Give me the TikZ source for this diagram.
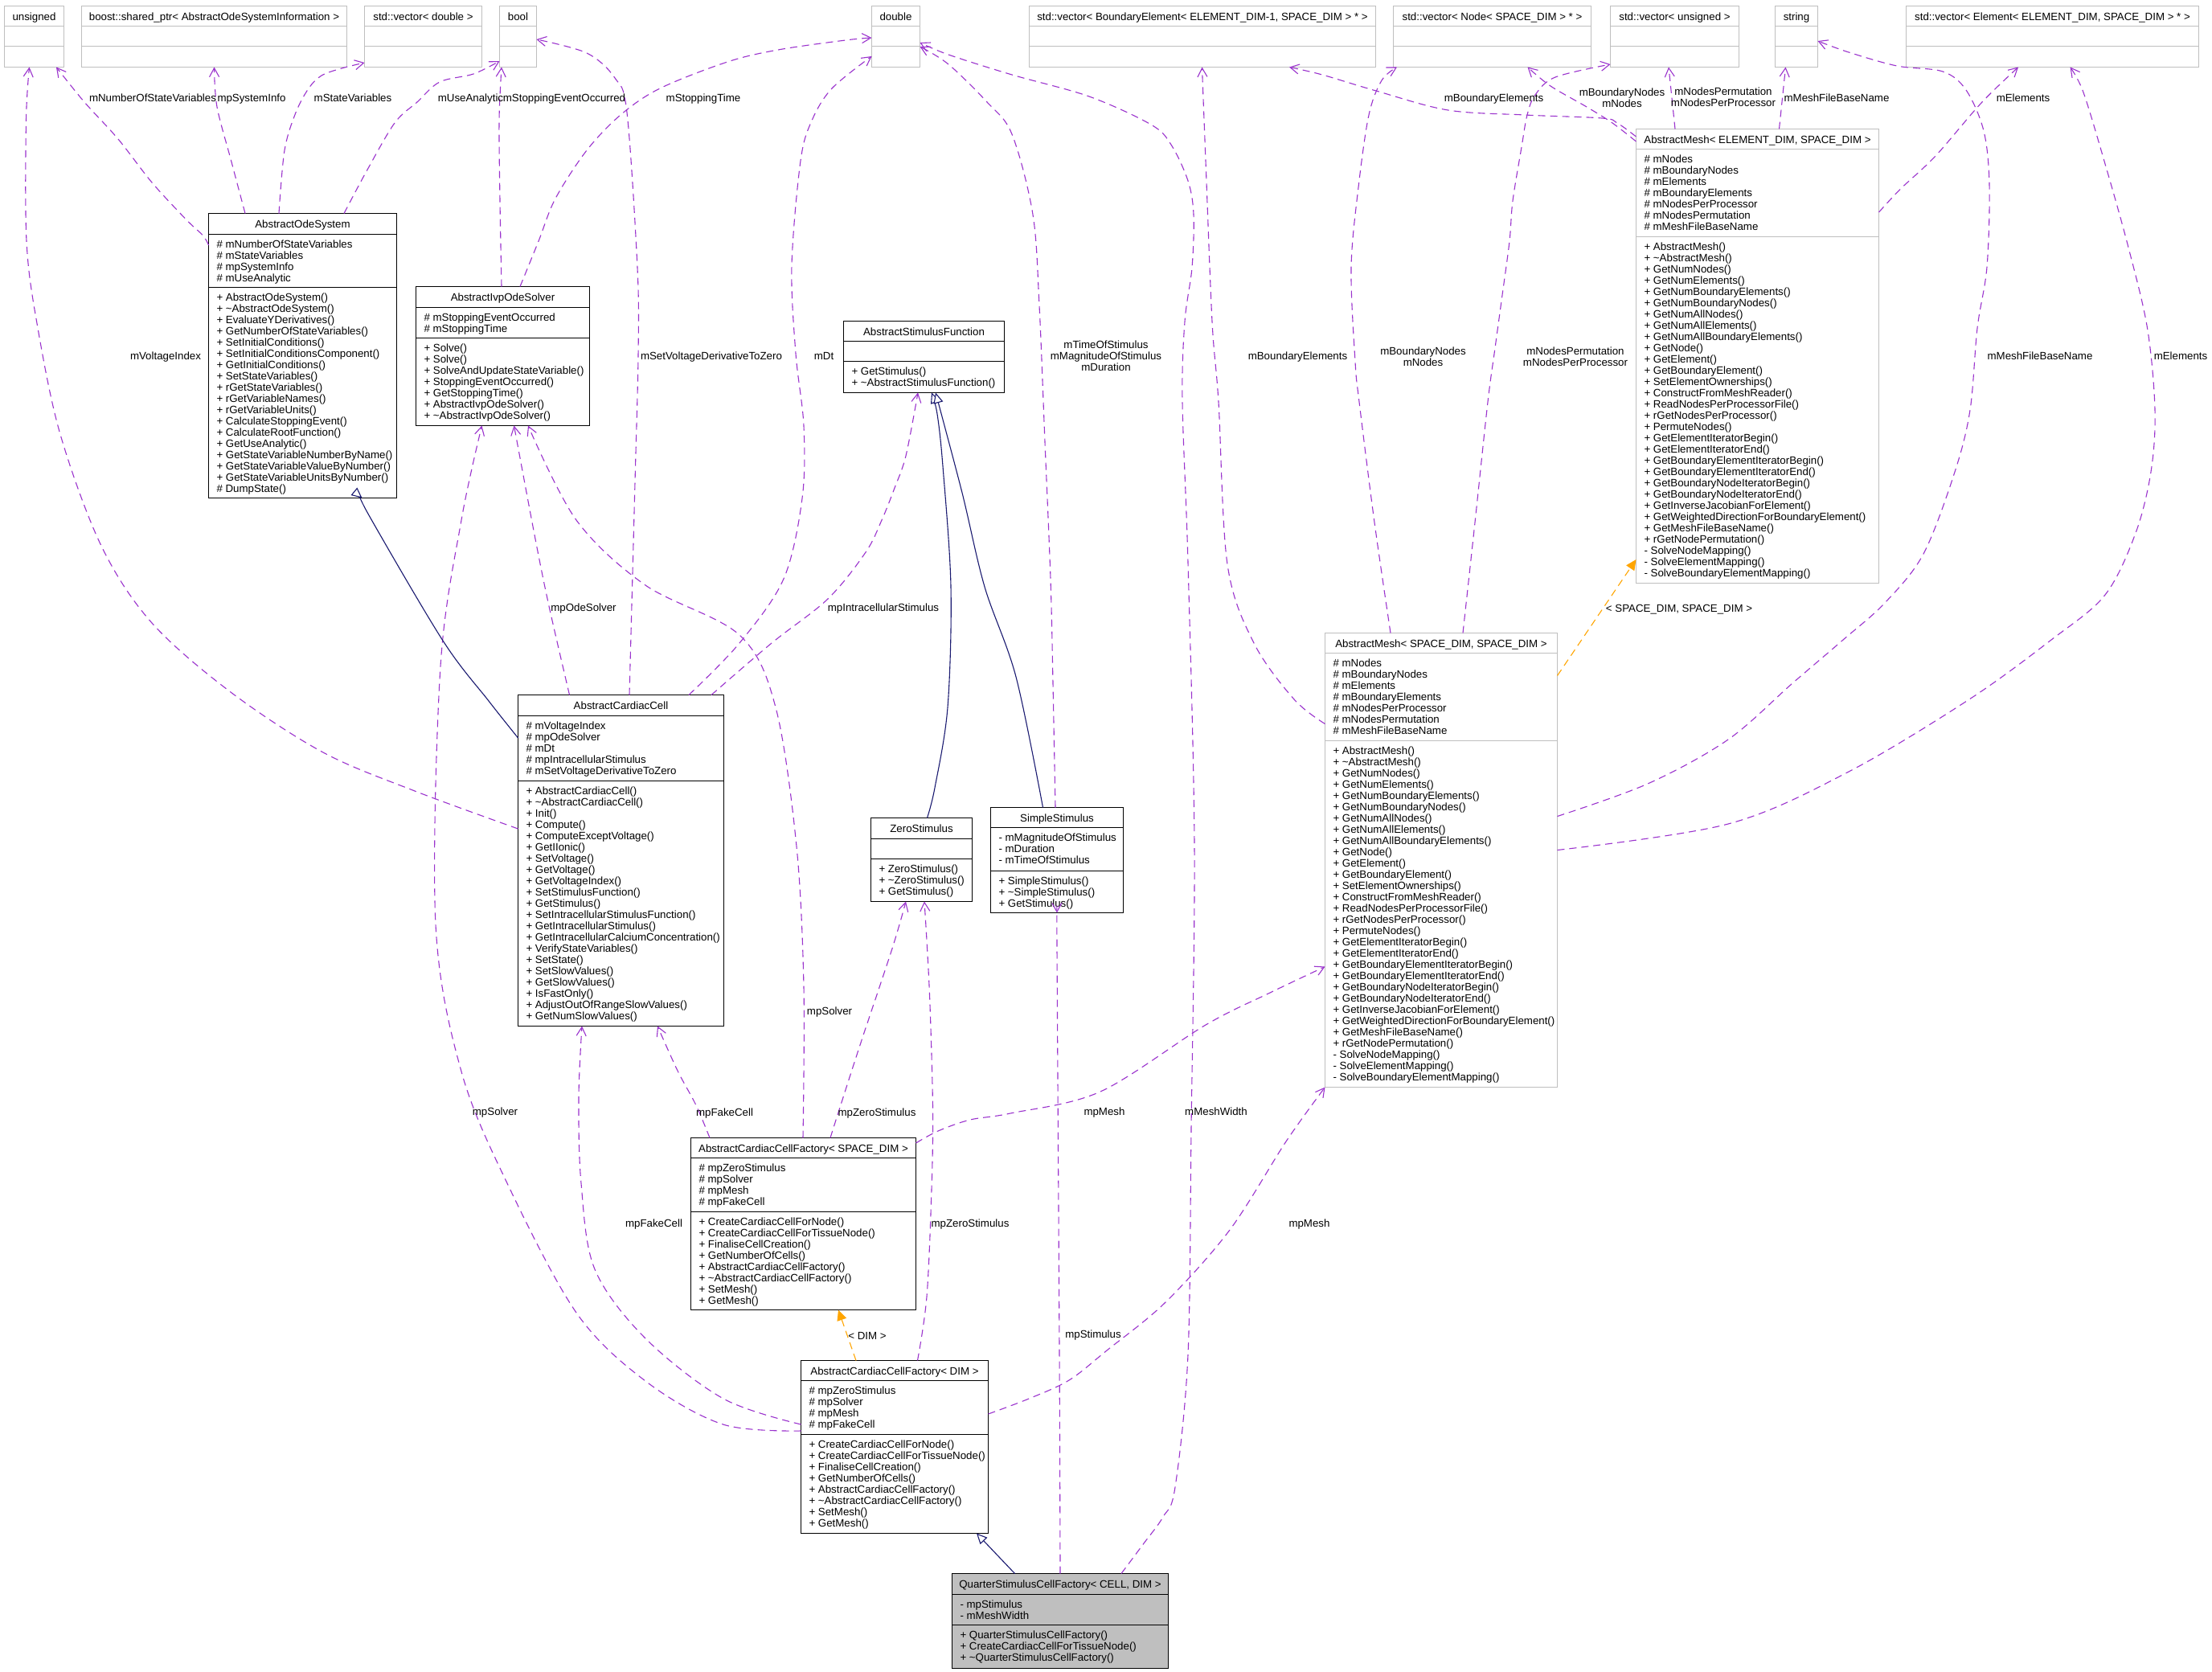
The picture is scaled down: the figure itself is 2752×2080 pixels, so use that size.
\documentclass[tikz,border=0pt]{standalone}
\usepackage{fontspec}
\setmainfont{Liberation Sans}
\usetikzlibrary{arrows.meta}
\definecolor{usecol}{HTML}{9A32CD}
\definecolor{inhcol}{HTML}{191970}
\definecolor{tplcol}{HTML}{FFA500}
\definecolor{greyb}{HTML}{BFBFBF}
\newcommand\FirstStrut{\rule{0pt}{10pt}}
\newcommand\umlbox[9]{%
  \node[#8,minimum width=#4pt,minimum height=#5pt,anchor=north west] (#1) at (#2,#3) {};
  \draw[#8 rule] ([yshift=-#6pt]#1.north west) -- ([yshift=-#6pt]#1.north east);
  \draw[#8 rule] ([yshift=-#7pt]#1.north west) -- ([yshift=-#7pt]#1.north east);
  \node[hd] (#1-t) at ([yshift=-7.5pt]#1.north) {\FirstStrut #9};
}
\begin{document}
\begin{tikzpicture}[x=1pt,y=-1pt,font=\fontsize{13.3}{14}\selectfont,
  cls/.style={draw=black,line width=1.1pt,fill=white,inner sep=0pt,outer sep=0pt},
  ucls/.style={draw=greyb,line width=1.1pt,fill=white,inner sep=0pt,outer sep=0pt},
  qcls/.style={draw=black,line width=1.1pt,fill=greyb,inner sep=0pt,outer sep=0pt},
  cls rule/.style={draw=black,line width=1.1pt},
  ucls rule/.style={draw=greyb,line width=1.1pt},
  qcls rule/.style={draw=black,line width=1.1pt},
  hd/.style={anchor=north,inner sep=0pt,outer sep=0pt},
  sec/.style={anchor=north west,inner sep=0pt,outer sep=0pt,align=left},
  lbl/.style={anchor=north,inner sep=0pt,outer sep=0pt,align=center},
  usage/.style={draw=usecol,line width=1.1pt,dash pattern=on 9pt off 6pt,-{Straight Barb[length=11pt,width=12pt]}},
  inh/.style={draw=inhcol,line width=1.1pt,-{Triangle[fill=white,length=13pt,width=12pt]}},
  tpl/.style={draw=tplcol,line width=1.1pt,dash pattern=on 9pt off 6pt,-{Triangle[length=13pt,width=12pt]}},
  sm/.style={smooth,tension=0.55}]
\fill[white] (0,0) rectangle (2752,2080);
\useasboundingbox (0,0) rectangle (2752,2080);

% ---------- top row ----------
\umlbox{u}{5.5}{7.5}{74}{76}{25}{50}{ucls}{unsigned}
\umlbox{bsp}{101.5}{7.5}{330}{76}{25}{50}{ucls}{boost::shared\_ptr< AbstractOdeSystemInformation >}
\umlbox{vd}{453.5}{7.5}{146}{76}{25}{50}{ucls}{std::vector< double >}
\umlbox{bo}{621.5}{7.5}{46}{76}{25}{50}{ucls}{bool}
\umlbox{db}{1084.5}{7.5}{60}{76}{25}{50}{ucls}{double}
\umlbox{vbe}{1280.5}{7.5}{431}{76}{25}{50}{ucls}{std::vector< BoundaryElement< ELEMENT\_DIM-1, SPACE\_DIM > * >}
\umlbox{vn}{1733.5}{7.5}{246}{76}{25}{50}{ucls}{std::vector< Node< SPACE\_DIM > * >}
\umlbox{vu}{2003.5}{7.5}{160}{76}{25}{50}{ucls}{std::vector< unsigned >}
\umlbox{st}{2208.5}{7.5}{53}{76}{25}{50}{ucls}{string}
\umlbox{ve}{2371.5}{7.5}{364}{76}{25}{50}{ucls}{std::vector< Element< ELEMENT\_DIM, SPACE\_DIM > * >}

% ---------- classes ----------
\umlbox{aos}{259.5}{265.5}{234}{354}{26}{92}{cls}{AbstractOdeSystem}
\node[sec] (aos-a) at ([shift={(10,32.8)}]aos.north west) {\FirstStrut\# mNumberOfStateVariables\\\# mStateVariables\\\# mpSystemInfo\\\# mUseAnalytic};
\node[sec] (aos-m) at ([shift={(10,98.8)}]aos.north west) {\FirstStrut+ AbstractOdeSystem()\\+ \textasciitilde AbstractOdeSystem()\\+ EvaluateYDerivatives()\\+ GetNumberOfStateVariables()\\+ SetInitialConditions()\\+ SetInitialConditionsComponent()\\+ GetInitialConditions()\\+ SetStateVariables()\\+ rGetStateVariables()\\+ rGetVariableNames()\\+ rGetVariableUnits()\\+ CalculateStoppingEvent()\\+ CalculateRootFunction()\\+ GetUseAnalytic()\\+ GetStateVariableNumberByName()\\+ GetStateVariableValueByNumber()\\+ GetStateVariableUnitsByNumber()\\\# DumpState()};

\umlbox{ivp}{517.5}{356.5}{216}{173}{26}{64}{cls}{AbstractIvpOdeSolver}
\node[sec] (ivp-a) at ([shift={(10,32.8)}]ivp.north west) {\FirstStrut\# mStoppingEventOccurred\\\# mStoppingTime};
\node[sec] (ivp-m) at ([shift={(10,70.8)}]ivp.north west) {\FirstStrut+ Solve()\\+ Solve()\\+ SolveAndUpdateStateVariable()\\+ StoppingEventOccurred()\\+ GetStoppingTime()\\+ AbstractIvpOdeSolver()\\+ \textasciitilde AbstractIvpOdeSolver()};

\umlbox{asf}{1049.5}{399.5}{200}{89}{25}{50}{cls}{AbstractStimulusFunction}
\node[sec] (asf-m) at ([shift={(10,56.8)}]asf.north west) {\FirstStrut+ GetStimulus()\\+ \textasciitilde AbstractStimulusFunction()};

\umlbox{acc}{644.5}{864.5}{256}{412}{26}{107}{cls}{AbstractCardiacCell}
\node[sec] (acc-a) at ([shift={(10,32.8)}]acc.north west) {\FirstStrut\# mVoltageIndex\\\# mpOdeSolver\\\# mDt\\\# mpIntracellularStimulus\\\# mSetVoltageDerivativeToZero};
\node[sec] (acc-m) at ([shift={(10,113.8)}]acc.north west) {\FirstStrut+ AbstractCardiacCell()\\+ \textasciitilde AbstractCardiacCell()\\+ Init()\\+ Compute()\\+ ComputeExceptVoltage()\\+ GetIIonic()\\+ SetVoltage()\\+ GetVoltage()\\+ GetVoltageIndex()\\+ SetStimulusFunction()\\+ GetStimulus()\\+ SetIntracellularStimulusFunction()\\+ GetIntracellularStimulus()\\+ GetIntracellularCalciumConcentration()\\+ VerifyStateVariables()\\+ SetState()\\+ SetSlowValues()\\+ GetSlowValues()\\+ IsFastOnly()\\+ AdjustOutOfRangeSlowValues()\\+ GetNumSlowValues()};

\umlbox{zs}{1083.5}{1017.5}{126}{104}{26}{51}{cls}{ZeroStimulus}
\node[sec] (zs-m) at ([shift={(10,57.8)}]zs.north west) {\FirstStrut+ ZeroStimulus()\\+ \textasciitilde ZeroStimulus()\\+ GetStimulus()};

\umlbox{ss}{1232.5}{1004.5}{165}{131}{25}{79}{cls}{SimpleStimulus}
\node[sec] (ss-a) at ([shift={(10,31.8)}]ss.north west) {\FirstStrut- mMagnitudeOfStimulus\\- mDuration\\- mTimeOfStimulus};
\node[sec] (ss-m) at ([shift={(10,85.8)}]ss.north west) {\FirstStrut+ SimpleStimulus()\\+ \textasciitilde SimpleStimulus()\\+ GetStimulus()};

\umlbox{ams}{1648.5}{787.5}{289}{565}{25}{134}{ucls}{AbstractMesh< SPACE\_DIM, SPACE\_DIM >}
\node[sec] (ams-a) at ([shift={(10,31.8)}]ams.north west) {\FirstStrut\# mNodes\\\# mBoundaryNodes\\\# mElements\\\# mBoundaryElements\\\# mNodesPerProcessor\\\# mNodesPermutation\\\# mMeshFileBaseName};
\node[sec] (ams-m) at ([shift={(10,140.8)}]ams.north west) {\FirstStrut+ AbstractMesh()\\+ \textasciitilde AbstractMesh()\\+ GetNumNodes()\\+ GetNumElements()\\+ GetNumBoundaryElements()\\+ GetNumBoundaryNodes()\\+ GetNumAllNodes()\\+ GetNumAllElements()\\+ GetNumAllBoundaryElements()\\+ GetNode()\\+ GetElement()\\+ GetBoundaryElement()\\+ SetElementOwnerships()\\+ ConstructFromMeshReader()\\+ ReadNodesPerProcessorFile()\\+ rGetNodesPerProcessor()\\+ PermuteNodes()\\+ GetElementIteratorBegin()\\+ GetElementIteratorEnd()\\+ GetBoundaryElementIteratorBegin()\\+ GetBoundaryElementIteratorEnd()\\+ GetBoundaryNodeIteratorBegin()\\+ GetBoundaryNodeIteratorEnd()\\+ GetInverseJacobianForElement()\\+ GetWeightedDirectionForBoundaryElement()\\+ GetMeshFileBaseName()\\+ rGetNodePermutation()\\- SolveNodeMapping()\\- SolveElementMapping()\\- SolveBoundaryElementMapping()};

\umlbox{ame}{2035.5}{160.5}{302}{565}{25}{134}{ucls}{AbstractMesh< ELEMENT\_DIM, SPACE\_DIM >}
\node[sec] (ame-a) at ([shift={(10,31.8)}]ame.north west) {\FirstStrut\# mNodes\\\# mBoundaryNodes\\\# mElements\\\# mBoundaryElements\\\# mNodesPerProcessor\\\# mNodesPermutation\\\# mMeshFileBaseName};
\node[sec] (ame-m) at ([shift={(10,140.8)}]ame.north west) {\FirstStrut+ AbstractMesh()\\+ \textasciitilde AbstractMesh()\\+ GetNumNodes()\\+ GetNumElements()\\+ GetNumBoundaryElements()\\+ GetNumBoundaryNodes()\\+ GetNumAllNodes()\\+ GetNumAllElements()\\+ GetNumAllBoundaryElements()\\+ GetNode()\\+ GetElement()\\+ GetBoundaryElement()\\+ SetElementOwnerships()\\+ ConstructFromMeshReader()\\+ ReadNodesPerProcessorFile()\\+ rGetNodesPerProcessor()\\+ PermuteNodes()\\+ GetElementIteratorBegin()\\+ GetElementIteratorEnd()\\+ GetBoundaryElementIteratorBegin()\\+ GetBoundaryElementIteratorEnd()\\+ GetBoundaryNodeIteratorBegin()\\+ GetBoundaryNodeIteratorEnd()\\+ GetInverseJacobianForElement()\\+ GetWeightedDirectionForBoundaryElement()\\+ GetMeshFileBaseName()\\+ rGetNodePermutation()\\- SolveNodeMapping()\\- SolveElementMapping()\\- SolveBoundaryElementMapping()};

\umlbox{fs}{859.5}{1415.5}{280}{214}{25}{92}{cls}{AbstractCardiacCellFactory< SPACE\_DIM >}
\node[sec] (fs-a) at ([shift={(10,31.8)}]fs.north west) {\FirstStrut\# mpZeroStimulus\\\# mpSolver\\\# mpMesh\\\# mpFakeCell};
\node[sec] (fs-m) at ([shift={(10,98.8)}]fs.north west) {\FirstStrut+ CreateCardiacCellForNode()\\+ CreateCardiacCellForTissueNode()\\+ FinaliseCellCreation()\\+ GetNumberOfCells()\\+ AbstractCardiacCellFactory()\\+ \textasciitilde AbstractCardiacCellFactory()\\+ SetMesh()\\+ GetMesh()};

\umlbox{fd}{996.5}{1692.5}{233}{215}{25}{92}{cls}{AbstractCardiacCellFactory< DIM >}
\node[sec] (fd-a) at ([shift={(10,31.8)}]fd.north west) {\FirstStrut\# mpZeroStimulus\\\# mpSolver\\\# mpMesh\\\# mpFakeCell};
\node[sec] (fd-m) at ([shift={(10,98.8)}]fd.north west) {\FirstStrut+ CreateCardiacCellForNode()\\+ CreateCardiacCellForTissueNode()\\+ FinaliseCellCreation()\\+ GetNumberOfCells()\\+ AbstractCardiacCellFactory()\\+ \textasciitilde AbstractCardiacCellFactory()\\+ SetMesh()\\+ GetMesh()};

\umlbox{q}{1184.5}{1957.5}{269}{118}{26}{64}{qcls}{QuarterStimulusCellFactory< CELL, DIM >}
\node[sec] (q-a) at ([shift={(10,32.8)}]q.north west) {\FirstStrut- mpStimulus\\- mMeshWidth};
\node[sec] (q-m) at ([shift={(10,70.8)}]q.north west) {\FirstStrut+ QuarterStimulusCellFactory()\\+ CreateCardiacCellForTissueNode()\\+ \textasciitilde QuarterStimulusCellFactory()};

% ---------- usage connectors ----------
\draw[usage] plot[sm] coordinates {([shift={(0,39.5)}]aos.north west) (252.5,293) (231.5,273) (189,227) (147,173) (105,127) ([shift={(64.5,76)}]u.north west)};
\draw[usage] plot[sm] coordinates {([shift={(45.5,0)}]aos.north west) (287.6,200) (270,133) ([shift={(165,76)}]bsp.north west)};
\draw[usage] plot[sm] coordinates {([shift={(87.5,0)}]aos.north west) (354,187) (368,140) (384,110) (400,94) (425,85) ([shift={(0,70.5)}]vd.north west)};
\draw[usage] plot[sm] coordinates {([shift={(168.5,0)}]aos.north west) (456,213) (491,153) (519,127) (547,102) (589,92) ([shift={(0,68.5)}]bo.north west)};
\draw[usage] plot[sm] coordinates {([shift={(106.5,0)}]ivp.north west) (622,250) (621,150) ([shift={(2.5,76)}]bo.north west)};
\draw[usage] plot[sm] coordinates {([shift={(129.5,0)}]ivp.north west) (670,300) (691,247) (730,187) (772,143) (821,110) (905,77) (968,62) (1052,50) ([shift={(0,39.5)}]db.north west)};
\draw[usage] plot[sm] coordinates {([shift={(0,166.5)}]acc.north west) (516,984) (402,936) (287,861) (189,775) (126,679) (74.6,539) (45.6,400) (33,300) (32.5,150) ([shift={(31,76)}]u.north west)};
\draw[usage] plot[sm] coordinates {([shift={(64,0)}]acc.north west) (683,754) (665.5,668) ([shift={(122,173)}]ivp.north west)};
\draw[usage] plot[sm] coordinates {([shift={(138.5,0)}]acc.north west) (790,600) (794,443) (793,333) (780,140) (765,97) (730,66) ([shift={(46,41.5)}]bo.north west)};
\draw[usage] plot[sm] coordinates {([shift={(212.5,0)}]acc.north west) (920,800) (975,720) (998,620) (1000,530) (990,440) (985,330) (996,200) (1010,150) (1035,110) ([shift={(0,62.5)}]db.north west)};
\draw[usage] plot[sm] coordinates {([shift={(240.5,0)}]acc.north west) (960,800) (1030,745) (1077,687) (1097,647) (1113,607) (1127,567) ([shift={(92.5,89)}]asf.north west)};
\draw[usage] plot[sm] coordinates {([shift={(80.5,0)}]ss.north west) (1310,850) (1307,720) (1300,550) (1293,380) (1285,267) (1259,167) (1228,127) (1180,80) ([shift={(60,50.5)}]db.north west)};
\draw[usage] plot[sm] coordinates {([shift={(210.5,0)}]q.north west) (1423,1920) (1447,1887) (1462,1850) (1478,1685) (1482,1404) (1486,1053) (1478,700) (1471,500) (1474,400) (1483,333) (1485,267) (1478,225) (1457,180) (1432,155) (1355,120) (1259,93) (1180,68) ([shift={(60,45.5)}]db.north west)};
\draw[usage] plot[sm] coordinates {([shift={(134.5,0)}]q.north west) (1318,1680) (1315,1180) ([shift={(82.5,131)}]ss.north west)};
\draw[usage] plot[sm] coordinates {([shift={(145,0)}]fd.north west) (1153,1613) (1159,1480) (1160.5,1380) (1157,1250) (1153,1170) ([shift={(66.5,104)}]zs.north west)};
\draw[usage] plot[sm] coordinates {([shift={(173.5,0)}]fs.north west) (1041.7,1388) (1070,1300) (1110,1180) ([shift={(43.5,104)}]zs.north west)};
\draw[usage] plot[sm] coordinates {([shift={(23.5,0)}]fs.north west) (866,1375) (843,1332) ([shift={(173.5,412)}]acc.north west)};
\draw[usage] plot[sm] coordinates {([shift={(0,79.5)}]fd.north west) (900,1740) (803,1665) (740,1579) (723,1472) (720,1365) ([shift={(79.5,412)}]acc.north west)};
\draw[usage] plot[sm] coordinates {([shift={(0,87.5)}]fd.north west) (899.6,1772) (803,1718) (717,1633) (631,1472) (574,1333) (542,1150) (548,829) (574,647) ([shift={(82,173)}]ivp.north west)};
\draw[usage] plot[sm] coordinates {([shift={(139.5,0)}]fs.north west) (1000,1228) (991,1053) (965,880) (920,790) (803,728) (717,647) ([shift={(139.5,173)}]ivp.north west)};
\draw[usage] plot[sm] coordinates {([shift={(280,6.5)}]fs.north west) (1167,1407) (1207,1393) (1257,1385) (1369,1358) (1500,1275) (1580,1235) ([shift={(0,415)}]ams.north west)};
\draw[usage] plot[sm] coordinates {([shift={(233,66.5)}]fd.north west) (1280,1740) (1330,1717) (1377,1680) (1450,1620) (1530,1530) (1600,1420) ([shift={(0,565)}]ams.north west)};
\draw[usage] plot[sm] coordinates {([shift={(0,113)}]ams.north west) (1610,870) (1560,800) (1527,702) (1516,500) (1508,400) (1500,200) ([shift={(215,76)}]vbe.north west)};
\draw[usage] plot[sm] coordinates {([shift={(81.5,0)}]ams.north west) (1710,650) (1691,500) (1686,450) (1681,333) (1690,233) (1703,143) (1719,100) ([shift={(4.5,76)}]vn.north west)};
\draw[usage] plot[sm] coordinates {([shift={(171.5,0)}]ams.north west) (1835,650) (1851,500) (1860,433) (1869,367) (1878,300) (1882,250) (1893,183) (1900,143) (1910,118) (1935,96) ([shift={(0,72.5)}]vu.north west)};
\draw[usage] plot[sm] coordinates {([shift={(289,228)}]ams.north west) (2050,975) (2150,920) (2230,850) (2293,796) (2345,750) (2393,689) (2432,587) (2451,510) (2460,408) (2472,332) (2475,230) (2468,163) (2446,112) (2417,89) (2360,82) (2300,65) ([shift={(53,43.5)}]st.north west)};
\draw[usage] plot[sm] coordinates {([shift={(289,270)}]ams.north west) (2150,1025) (2300,960) (2450,870) (2552,796) (2619,740) (2657,663) (2676,587) (2681,510) (2671.5,408) (2647.5,306) (2619,204) (2592,115) ([shift={(204,76)}]ve.north west)};
\draw[usage] plot[sm] coordinates {([shift={(0,9.5)}]ame.north west) (2012,153) (1993,147) (1897,143) (1801.5,137) (1712,113) (1645,93) ([shift={(323.5,76)}]vbe.north west)};
\draw[usage] plot[sm] coordinates {([shift={(0,15.5)}]ame.north west) (2006,153) (1974,133) (1929,107) ([shift={(167,76)}]vn.north west)};
\draw[usage] ([shift={(48.5,0)}]ame.north west) -- ([shift={(72.5,76)}]vu.north west);
\draw[usage] ([shift={(178,0)}]ame.north west) -- ([shift={(13,76)}]st.north west);
\draw[usage] plot[sm] coordinates {([shift={(302,103.5)}]ame.north west) (2364.5,235) (2408,194) (2465,128) ([shift={(139.5,76)}]ve.north west)};

% ---------- inheritance ----------
\draw[inh] plot[sm] coordinates {([shift={(0,53.5)}]acc.north west) (608,872) (551,797) (459,641) ([shift={(191,354)}]aos.north west)};
\draw[inh] plot[sm] coordinates {([shift={(70,0)}]zs.north west) (1163,980) (1179,880) (1183,730) (1173,580) (1166,515) ([shift={(109.5,89)}]asf.north west)};
\draw[inh] plot[sm] coordinates {([shift={(65,0)}]ss.north west) (1264,842) (1225,730) (1197,613) ([shift={(114.5,89)}]asf.north west)};
\draw[inh] ([shift={(78,0)}]q.north west) -- ([shift={(218.5,215)}]fd.north west);

% ---------- template instantiation ----------
\draw[tpl] ([shift={(289,53)}]ams.north west) -- ([shift={(0,535.5)}]ame.north west);
\draw[tpl] ([shift={(68.5,0)}]fd.north west) -- ([shift={(183.5,214)}]fs.north west);

% ---------- labels ----------
\node[lbl] (l-nosv) at (190,116.5) {\FirstStrut mNumberOfStateVariables};
\node[lbl] (l-psi) at (313,116.5) {\FirstStrut mpSystemInfo};
\node[lbl] (l-sv) at (439,116.5) {\FirstStrut mStateVariables};
\node[lbl] (l-ua) at (585.5,116.5) {\FirstStrut mUseAnalytic};
\node[lbl] (l-seo) at (702,116.5) {\FirstStrut mStoppingEventOccurred};
\node[lbl] (l-stime) at (875,116.5) {\FirstStrut mStoppingTime};
\node[lbl] (l-vi) at (206,437.5) {\FirstStrut mVoltageIndex};
\node[lbl] (l-pos) at (726,750.5) {\FirstStrut mpOdeSolver};
\node[lbl] (l-svd) at (885,437.5) {\FirstStrut mSetVoltageDerivativeToZero};
\node[lbl] (l-dt) at (1025,437.5) {\FirstStrut mDt};
\node[lbl] (l-pis) at (1099,750.5) {\FirstStrut mpIntracellularStimulus};
\node[lbl] (l-tos) at (1376,423.8) {\FirstStrut mTimeOfStimulus\\mMagnitudeOfStimulus\\mDuration};
\node[lbl] (l-mw) at (1513,1377.5) {\FirstStrut mMeshWidth};
\node[lbl] (l-ps) at (1360,1654.5) {\FirstStrut mpStimulus};
\node[lbl] (l-pzs1) at (1207,1516.5) {\FirstStrut mpZeroStimulus};
\node[lbl] (l-pzs2) at (1091,1378.5) {\FirstStrut mpZeroStimulus};
\node[lbl] (l-pfc1) at (901.5,1378.5) {\FirstStrut mpFakeCell};
\node[lbl] (l-pfc2) at (813.5,1516.5) {\FirstStrut mpFakeCell};
\node[lbl] (l-psol1) at (616,1377.5) {\FirstStrut mpSolver};
\node[lbl] (l-psol2) at (1032,1252.5) {\FirstStrut mpSolver};
\node[lbl] (l-pm1) at (1374,1377.5) {\FirstStrut mpMesh};
\node[lbl] (l-pm2) at (1629,1516.5) {\FirstStrut mpMesh};
\node[lbl] (l-be1) at (1614.5,437.5) {\FirstStrut mBoundaryElements};
\node[lbl] (l-bn1) at (1770.5,431.2) {\FirstStrut mBoundaryNodes\\mNodes};
\node[lbl] (l-np1) at (1960,431.2) {\FirstStrut mNodesPermutation\\mNodesPerProcessor};
\node[lbl] (l-mf1) at (2538,437.5) {\FirstStrut mMeshFileBaseName};
\node[lbl] (l-el1) at (2713,437.5) {\FirstStrut mElements};
\node[lbl] (l-be2) at (1858.6,116.5) {\FirstStrut mBoundaryElements};
\node[lbl] (l-bn2) at (2018,109.5) {\FirstStrut mBoundaryNodes\\mNodes};
\node[lbl] (l-np2) at (2144,108.8) {\FirstStrut mNodesPermutation\\mNodesPerProcessor};
\node[lbl] (l-mf2) at (2285,116) {\FirstStrut mMeshFileBaseName};
\node[lbl] (l-el2) at (2517,116) {\FirstStrut mElements};
\node[lbl] (l-t1) at (2089,751.5) {\FirstStrut < SPACE\_DIM, SPACE\_DIM >};
\node[lbl] (l-t2) at (1079,1656.5) {\FirstStrut < DIM >};
\end{tikzpicture}
\end{document}
